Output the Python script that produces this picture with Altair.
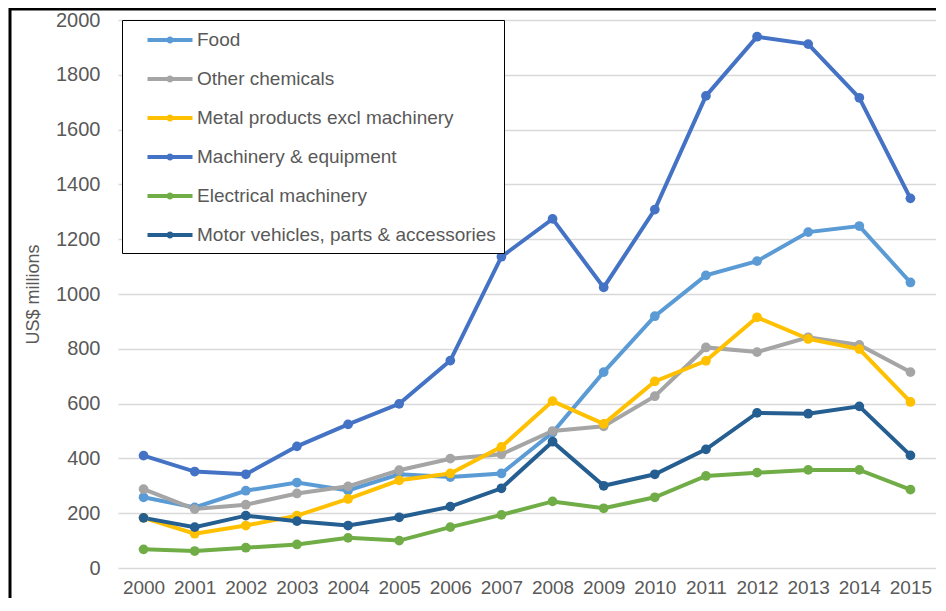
import altair as alt
import pandas as pd

years = [str(y) for y in range(2000, 2016)]
series = ["Food", "Other chemicals", "Metal products excl machinery",
          "Machinery & equipment", "Electrical machinery",
          "Motor vehicles, parts & accessories"]
colors = ["#5B9BD5", "#A5A5A5", "#FFC000", "#4472C4", "#70AD47", "#255E91"]

food = [258, 221, 282, 312, 283, 342, 332, 345, 494, 715, 919, 1068, 1120, 1226, 1248, 1042]
chem = [288, 215, 231, 272, 298, 357, 399, 415, 500, 517, 627, 805, 788, 842, 814, 715]
metal = [183, 125, 155, 191, 252, 320, 345, 442, 609, 526, 681, 756, 915, 836, 799, 606]
mach = [410, 352, 342, 444, 524, 599, 757, 1136, 1274, 1024, 1308, 1723, 1939, 1912, 1716, 1349]
elec = [68, 62, 74, 86, 110, 100, 149, 194, 243, 218, 258, 336, 348, 358, 358, 286]
motor = [183, 149, 191, 171, 155, 185, 224, 291, 461, 300, 342, 433, 566, 563, 590, 411]

values = [food, chem, metal, mach, elec, motor]
rows = []
for i, (name, vals) in enumerate(zip(series, values)):
    for y, v in zip(years, vals):
        rows.append({"Year": y, "Series": name, "Value": v, "ord": i})
df = pd.DataFrame(rows)

W, H = 818, 548
FONT = "Liberation Sans"

x = alt.X("Year:O", scale=alt.Scale(type="point", padding=0.5),
          axis=alt.Axis(title=None, labelAngle=0, labelFontSize=19, labelColor="#595959",
                        labelFont=FONT, domain=False, ticks=False, labelPadding=10, grid=False))
y = alt.Y("Value:Q", scale=alt.Scale(domain=[0, 2000], nice=False),
          axis=alt.Axis(title="US$ millions", values=list(range(0, 2001, 200)), format="d",
                        labelFontSize=20, labelColor="#595959", labelFont=FONT,
                        domain=False, ticks=False, labelPadding=18,
                        gridColor="#D9D9D9", gridWidth=1.5,
                        titleFont=FONT, titleFontSize=18, titleFontWeight="normal",
                        titleColor="#595959", titleX=-85, titleY=H / 2,
                        titleAlign="center", titleBaseline="middle", titleAngle=-90))
symbol_path = ("M-2.25,0H2.25"
               "M-0.15,0A0.15,0.15 0 1,0 0.15,0A0.15,0.15 0 1,0 -0.15,0Z")


def make_legend():
    return alt.Legend(title=None, orient="none", legendX=4, legendY=0,
                      symbolType=symbol_path,
                      symbolSize=400, symbolStrokeWidth=4,
                      symbolOffset=28, labelOffset=15,
                      labelFontSize=19, labelColor="#595959", labelFont=FONT,
                      rowPadding=17, padding=8,
                      labelExpr="datum.label + '\u00a0\u00a0\u00a0\u00a0\u00a0'",
                      strokeColor="black", fillColor="white",
                      labelLimit=0)


stroke = alt.Stroke("Series:N", scale=alt.Scale(domain=series, range=colors),
                    legend=make_legend())
fill = alt.Fill("Series:N", scale=alt.Scale(domain=series, range=colors),
                legend=make_legend())

frame = alt.Chart(pd.DataFrame({"a": [0]})).mark_rect(
    fill=None, stroke="black", strokeWidth=3
).encode(x=alt.value(-108), x2=alt.value(2000), y=alt.value(-11), y2=alt.value(2000))

lines = alt.Chart(df).mark_line(strokeWidth=4).encode(
    x=x, y=y, stroke=stroke, order="Year:O")
points = alt.Chart(df).mark_point(filled=True, size=95, opacity=1, strokeWidth=0).encode(
    x=x, y=y, fill=fill, order=alt.Order("ord:Q"))

chart = alt.layer(lines, points, frame).properties(
    width=W, height=H,
    autosize=alt.AutoSizeParams(type="none"),
    padding={"left": 110, "top": 12, "right": 0, "bottom": 30},
).configure_view(stroke=None)

chart.save("out.html", embed_options={"renderer": "svg", "actions": False})
